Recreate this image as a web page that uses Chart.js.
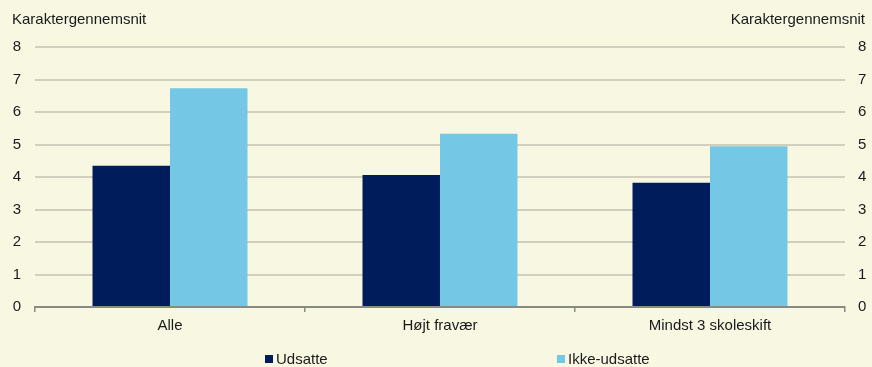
<!DOCTYPE html>
<html>
<head>
<meta charset="utf-8">
<script src="https://cdn.jsdelivr.net/npm/chart.js@4/dist/chart.umd.min.js"></script>
<style>
  html, body { margin: 0; padding: 0; background: #f8f7e2; }
  #wrap { width: 872px; height: 367px; }
</style>
</head>
<body>
<div id="wrap"><canvas id="grades"></canvas></div>
<script>
// categories and values
var categories = ['Alle', 'Højt fravær', 'Mindst 3 skoleskift'];
var udsatte = [4.35, 4.06, 3.82];
var ikkeUdsatte = [6.73, 5.33, 4.95];
var axisTitle = 'Karaktergennemsnit';
var yTicks = [0, 1, 2, 3, 4, 5, 6, 7, 8];

var textColor = '#1a1a1a';
var fontFamily = '"Liberation Sans", Arial, sans-serif';
var font = { family: fontFamily, size: 15 };

// axis titles above the plot + a legend with wide spacing like the original
var extras = {
    id: 'extras',
    afterDraw: function(chart) {
        var ctx = chart.ctx;
        ctx.save();
        ctx.font = '15px ' + fontFamily;
        ctx.fillStyle = textColor;
        ctx.textBaseline = 'middle';
        ctx.textAlign = 'left';
        ctx.fillText(axisTitle, 12, 20);
        ctx.textAlign = 'right';
        ctx.fillText(axisTitle, 865, 20);

        // legend
        var legendX = [265, 557];
        chart.data.datasets.forEach(function(ds, i) {
            ctx.fillStyle = ds.backgroundColor;
            ctx.fillRect(legendX[i], 355, 8, 8);
            ctx.fillStyle = textColor;
            ctx.textAlign = 'left';
            ctx.fillText(ds.label, legendX[i] + 11, 359.5);
        });
        ctx.restore();
    }
};

const data = {
    labels: categories,
    datasets: [
        {
            label: 'Udsatte',
            data: udsatte,
            backgroundColor: '#001c5a',
            borderWidth: 0,
            yAxisID: 'y'
        },
        {
            label: 'Ikke-udsatte',
            data: ikkeUdsatte,
            backgroundColor: '#74c8e6',
            borderWidth: 0,
            yAxisID: 'y'
        }
    ]
};

const config = {
    type: 'bar',
    data: data,
    plugins: [extras],
    options: {
        responsive: true,
        maintainAspectRatio: false,
        animation: false,
        datasets: {
            bar: { barPercentage: 1.0, categoryPercentage: 0.574 }
        },
        layout: { padding: { top: 47, bottom: 0, left: 0, right: 0 } },
        plugins: {
            legend: { display: false },
            tooltip: { enabled: false }
        },
        scales: {
            x: {
                grid: {
                    display: true,
                    offset: true,
                    drawOnChartArea: false,
                    drawTicks: true,
                    tickLength: 5,
                    color: '#8a8a84',
                    lineWidth: 1.5
                },
                border: { color: '#8a8a84', width: 2 },
                ticks: { color: textColor, font: font, padding: 5 },
                afterFit: function(scale) { scale.height = 60; }
            },
            y: {
                position: 'left',
                min: 0,
                max: 8,
                afterBuildTicks: function(scale) { scale.ticks = yTicks.map(function(v) { return { value: v }; }); },
                grid: { color: '#d2cfbf', lineWidth: 2, drawTicks: false },
                border: { display: false },
                ticks: { color: textColor, font: font, padding: 14 },
                afterFit: function(scale) { scale.width = 35; }
            },
            y1: {
                position: 'right',
                min: 0,
                max: 8,
                afterBuildTicks: function(scale) { scale.ticks = yTicks.map(function(v) { return { value: v }; }); },
                grid: { display: false, drawTicks: false },
                border: { display: false },
                ticks: { color: textColor, font: font, padding: 13 },
                afterFit: function(scale) { scale.width = 27; }
            }
        }
    }
};

new Chart(document.getElementById('grades'), config);
</script>
</body>
</html>
